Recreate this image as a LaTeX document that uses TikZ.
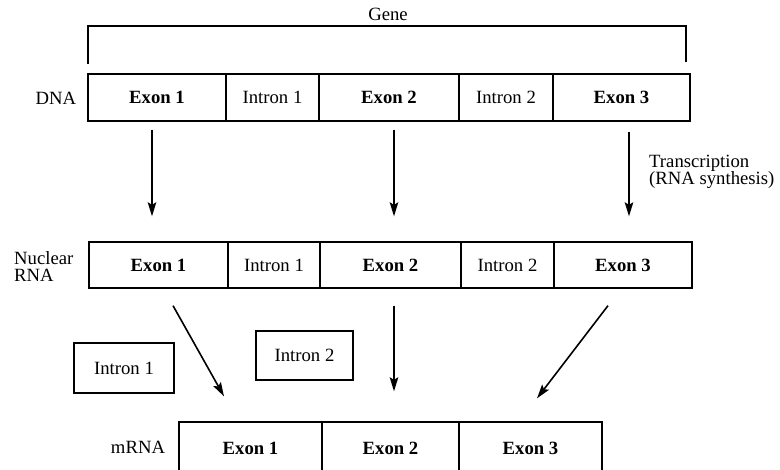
\documentclass[tikz,border=0pt]{standalone}
\usepackage{fontspec}
\setmainfont{Liberation Serif}
\usetikzlibrary{arrows.meta,calc}
\tikzset{
  seg/.style     = {draw,line width=1.3pt,inner sep=0pt},
  lab/.style     = {inner sep=0pt},
  twoline/.style = {inner sep=0pt,align=left,anchor=west,font=\fontsize{18.7}{17}\selectfont},
  flowarr/.style = {-{Stealth[length=14pt,width=8.5pt,inset=2.5pt]},line width=1.6pt},
  bracket/.style = {line width=1.3pt}
}
\newcommand{\segbox}[6]{%
  \node[seg,minimum width={#3-#2},minimum height={#5-#4}] (#1) at ({(#2+#3)/2},{(#4+#5)/2}) {#6};
}

\begin{document}
\begin{tikzpicture}[x=1pt,y=-1pt,font=\fontsize{18.7}{17}\selectfont]
  \useasboundingbox (0,0) rectangle (780,470);
  \clip (0,0) rectangle (780,470);
  \draw[bracket] (88,64) -- (88,26) -- (686,26) -- (686,62);
  \node[lab] (gene) at (388,14) {Gene};
  \segbox{d1}{88}{226}{74}{121}{\textbf{Exon 1}}
  \segbox{d2}{226}{319}{74}{121}{Intron 1}
  \segbox{d3}{319}{459}{74}{121}{\textbf{Exon 2}}
  \segbox{d4}{459}{553}{74}{121}{Intron 2}
  \segbox{d5}{553}{690}{74}{121}{\textbf{Exon 3}}
  \node[lab] (dna) at (56,98) {DNA};
  \segbox{n1}{89}{228}{242}{288}{\textbf{Exon 1}}
  \segbox{n2}{228}{320}{242}{288}{Intron 1}
  \segbox{n3}{320}{461}{242}{288}{\textbf{Exon 2}}
  \segbox{n4}{461}{554}{242}{288}{Intron 2}
  \segbox{n5}{554}{692}{242}{288}{\textbf{Exon 3}}
  \node[twoline] (nuc) at (14,267) {Nuclear\\RNA};
  \node[twoline] (trans) at (649,172) {Transcription\\(RNA synthesis)};
  \segbox{i1}{74}{174}{343}{393}{Intron 1}
  \segbox{i2}{256}{353}{331}{380}{Intron 2}
  \segbox{m1}{179}{322}{422}{474}{\textbf{Exon 1}}
  \segbox{m2}{322}{459}{422}{474}{\textbf{Exon 2}}
  \segbox{m3}{459}{602}{422}{474}{\textbf{Exon 3}}
  \node[lab] (mrna) at (138,447) {mRNA};
  \draw[flowarr] ($(d1.south)+(-5,8)$) -- ($(n1.north)+(-6.5,-25)$);
  \draw[flowarr] ($(d3.south)+(5,8)$) -- ($(n3.north)+(3.5,-25)$);
  \draw[flowarr] ($(d5.south)+(7.5,10)$) -- ($(n5.north)+(6,-25)$);
  \draw[flowarr] ($(n1.south)+(14.5,17)$) -- ($(m1.north)+(-26.5,-25)$);
  \draw[flowarr] ($(n3.south)+(3.5,17)$) -- ($(m2.north)+(3.5,-30)$);
  \draw[flowarr] ($(n5.south)+(-15,17)$) -- ($(m3.north)+(6.5,-23)$);
\end{tikzpicture}
\end{document}
